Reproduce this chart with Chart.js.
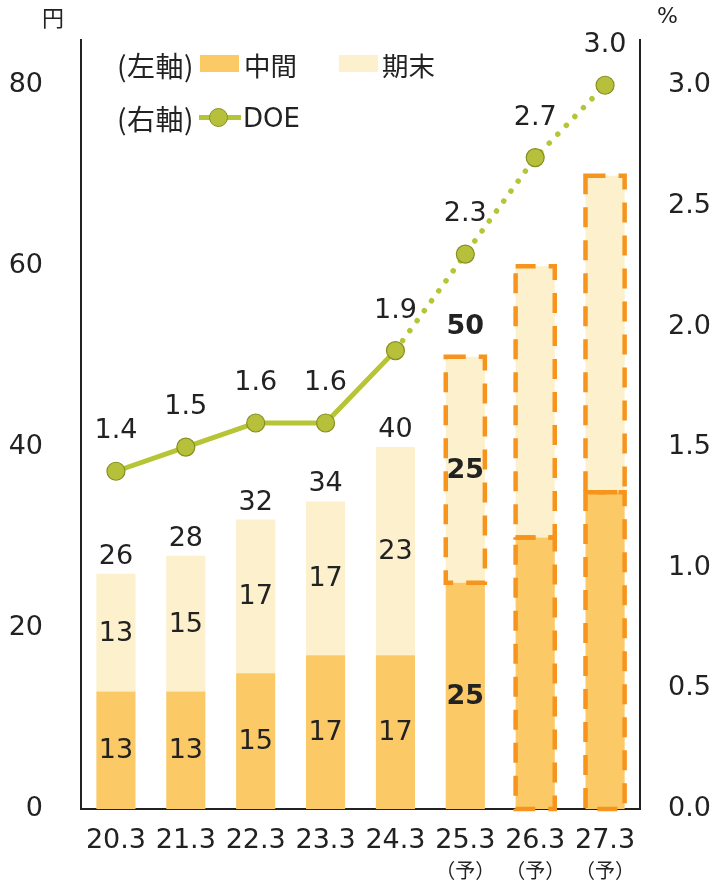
<!DOCTYPE html>
<html>
<head>
<meta charset="utf-8">
<script src="https://cdn.jsdelivr.net/npm/chart.js@4/dist/chart.umd.min.js"></script>
<style>
  html, body { margin: 0; padding: 0; background: #fff; }
  #wrap { position: relative; width: 714px; height: 883px; overflow: hidden; }
  #c { position: absolute; left: 0; top: 0; }
  .t { position: absolute; color: #222; font-family: "Noto Sans CJK JP", "DejaVu Sans", sans-serif; white-space: nowrap; line-height: 26px; font-size: 26px; }
  .num { font-family: "DejaVu Sans", sans-serif; }
  .sw { position: absolute; }
</style>
</head>
<body>
<div id="wrap">
  <canvas id="c" width="714" height="883"></canvas>
  <div class="t" style="left:42px; top:5px; font-size:22px; line-height:22px;">円</div>
  <div class="t num" style="left:657px; top:5px; font-size:22px; line-height:22px;">%</div>

  <div class="t" style="left:117px; top:52px; font-size:28px; letter-spacing:0.5px;">(左軸)</div>
  <div class="sw" style="left:200px; top:55px; width:39px; height:17px; background:#FBC966;"></div>
  <div class="t" style="left:244px; top:52px; font-size:26.5px;">中間</div>
  <div class="sw" style="left:339px; top:55px; width:39px; height:17px; background:#FCF1CC;"></div>
  <div class="t" style="left:382px; top:52px; font-size:26.5px;">期末</div>

  <div class="t" style="left:117px; top:105px; font-size:28px; letter-spacing:0.5px;">(右軸)</div>
  <div class="sw" style="left:199px; top:115px; width:42px; height:5px; background:#B5C536;"></div>
  <div class="sw" style="left:209px; top:108px; width:17px; height:17px; border-radius:50%; background:#B6C03A; border:1px solid #86901F;"></div>
  <div class="t num" style="left:243px; top:105px;">DOE</div>
</div>
<script>
// ---- data ----
const categories = ['20.3', '21.3', '22.3', '23.3', '24.3', '25.3', '26.3', '27.3'];
const forecastNotes = ['', '', '', '', '', '（予）', '（予）', '（予）'];
const interim = [13, 13, 15, 17, 17, 25, 30, 35];
const yearEnd = [13, 15, 17, 17, 23, 25, 30, 35];
const totals = [26, 28, 32, 34, 40, 50, 60, 70];
const doe = [1.4, 1.5, 1.6, 1.6, 1.9, 2.3, 2.7, 3.0];
const interimLabels = ['13', '13', '15', '17', '17', '25', '', ''];
const yearEndLabels = ['13', '15', '17', '17', '23', '25', '', ''];
const totalLabels = ['26', '28', '32', '34', '40', '50', '', ''];
const doeLabels = ['1.4', '1.5', '1.6', '1.6', '1.9', '2.3', '2.7', '3.0'];
const boldLabelIndex = [5];
const dashedInterim = [6, 7];
const dashedYearEnd = [5, 6, 7];
const leftTicks = [0, 20, 40, 60, 80];
const rightTicks = [0, 0.5, 1.0, 1.5, 2.0, 2.5, 3.0];
const dottedFromIndex = 4;

const TXT = '#222';
const NUMFONT = '"DejaVu Sans", sans-serif';
const FS = 27;

const labelsPlugin = {
  id: 'labelsPlugin',
  beforeDatasetDraw(chart, args) {
    if (args.index !== 2) return;
    const ctx = chart.ctx;
    ctx.save();
    ctx.strokeStyle = '#F7941D';
    ctx.lineWidth = 4.5;
    ctx.setLineDash([20, 13]);
    const boxes = [[0, dashedInterim], [1, dashedYearEnd]];
    boxes.forEach(([di, idxs]) => {
      const meta = chart.getDatasetMeta(di);
      idxs.forEach(i => {
        const el = meta.data[i];
        const top = Math.min(el.y, el.base), bot = Math.max(el.y, el.base);
        const l = el.x - el.width / 2;
        ctx.strokeRect(l, top, el.width, bot - top);
      });
    });
    ctx.restore();
  },
  afterDatasetsDraw(chart) {
    const ctx = chart.ctx;
    ctx.save();
    ctx.fillStyle = TXT;
    ctx.textAlign = 'center';
    ctx.textBaseline = 'middle';
    const m0 = chart.getDatasetMeta(0), m1 = chart.getDatasetMeta(1), m2 = chart.getDatasetMeta(2);
    categories.forEach((c, i) => {
      const bold = boldLabelIndex.includes(i);
      ctx.font = (bold ? 'bold ' : '') + FS + 'px ' + NUMFONT;
      const e0 = m0.data[i], e1 = m1.data[i];
      if (interimLabels[i]) ctx.fillText(interimLabels[i], e0.x, (e0.y + e0.base) / 2 + 1);
      if (yearEndLabels[i]) ctx.fillText(yearEndLabels[i], e1.x, (e1.y + e1.base) / 2 + 1);
      if (totalLabels[i]) ctx.fillText(totalLabels[i], e1.x, e1.y - (bold ? 30 : 17));
      ctx.font = FS + 'px ' + NUMFONT;
      const p = m2.data[i];
      ctx.fillText(doeLabels[i], p.x, p.y - 40);
    });
    // forecast notes under x ticks
    const xs = chart.scales.x;
    ctx.font = '20px "Noto Sans CJK JP", sans-serif';
    forecastNotes.forEach((n, i) => {
      if (n) ctx.fillText(n, xs.getPixelForValue(i), 870);
    });
    ctx.restore();
  }
};

function noPad(s) { s.paddingTop = 0; s.paddingBottom = 0; s.paddingLeft = 0; s.paddingRight = 0; }

new Chart(document.getElementById('c'), {
  data: {
    labels: categories,
    datasets: [
      { type: 'bar', label: '中間', data: interim, backgroundColor: '#FBC966', yAxisID: 'y', stack: 's', order: 1,
        barPercentage: 0.56, categoryPercentage: 1.0, borderWidth: 0 },
      { type: 'bar', label: '期末', data: yearEnd, backgroundColor: '#FCF1CC', yAxisID: 'y', stack: 's', order: 2,
        barPercentage: 0.56, categoryPercentage: 1.0, borderWidth: 0 },
      { type: 'line', label: 'DOE', data: doe, yAxisID: 'y1', order: 0,
        borderColor: '#B5C536', borderWidth: 5, tension: 0,
        pointRadius: 9, pointHoverRadius: 9, pointBackgroundColor: '#B6C03A', pointBorderColor: '#86901F', pointBorderWidth: 1.2,
        segment: {
          borderDash: ctx => ctx.p0DataIndex >= dottedFromIndex ? [0.01, 12.3] : undefined,
          borderCapStyle: ctx => ctx.p0DataIndex >= dottedFromIndex ? 'round' : 'butt',
          borderWidth: ctx => ctx.p0DataIndex >= dottedFromIndex ? 5.5 : 5
        } }
    ]
  },
  options: {
    responsive: false,
    animation: false,
    devicePixelRatio: 1,
    layout: { padding: { top: 40, left: 6, right: 4, bottom: 26 } },
    plugins: { legend: { display: false }, tooltip: { enabled: false } },
    scales: {
      x: {
        stacked: true,
        grid: { display: false, drawTicks: false },
        border: { display: true, color: TXT, width: 2 },
        ticks: { color: TXT, font: { family: NUMFONT, size: FS }, padding: 16, maxRotation: 0, autoSkip: false },
        afterFit: s => { noPad(s); s.height = 883 - 26 - 809; }
      },
      y: {
        stacked: true, position: 'left', min: 0, max: 85,
        afterBuildTicks: s => { s.ticks = leftTicks.map(v => ({ value: v })); },
        grid: { display: false, drawTicks: false },
        border: { display: true, color: TXT, width: 2 },
        ticks: { color: TXT, font: { family: NUMFONT, size: FS }, padding: 38 },
        afterFit: s => { noPad(s); s.width = 81 - 6; }
      },
      y1: {
        position: 'right', min: 0, max: 85 * 3 / 80,
        afterBuildTicks: s => { s.ticks = rightTicks.map(v => ({ value: v })); },
        grid: { display: false, drawTicks: false },
        border: { display: true, color: TXT, width: 2 },
        ticks: { color: TXT, font: { family: NUMFONT, size: FS }, padding: 28, callback: v => Number(v).toFixed(1) },
        afterFit: s => { noPad(s); s.width = 714 - 4 - 640; }
      }
    }
  },
  plugins: [labelsPlugin]
});
</script>
</body>
</html>
